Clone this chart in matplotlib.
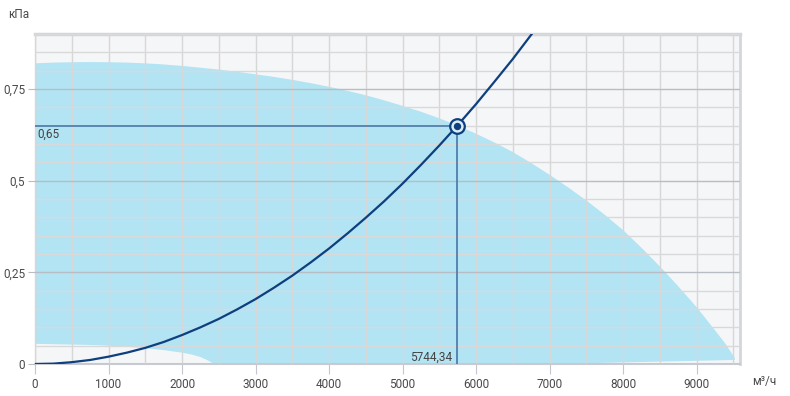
import matplotlib
matplotlib.use("Agg")
import matplotlib.pyplot as plt
from matplotlib.ticker import MultipleLocator, FuncFormatter

plt.rcParams['font.family'] = ['Roboto', 'DejaVu Sans']

# рабочая область вентилятора (верхняя и нижняя граница)
upper_x = [0, 250, 500, 750, 1000, 1250, 1500, 1750, 2000, 2250, 2500, 2750,
           3000, 3250, 3500, 3750, 4000, 4250, 4500, 4750, 5000, 5250, 5500,
           5750, 6000, 6250, 6500, 6750, 7000, 7250, 7500, 7750, 8000, 8250,
           8500, 8750, 9000, 9250, 9400, 9520]
upper_y = [0.820, 0.822, 0.823, 0.8235, 0.823, 0.822, 0.820, 0.817, 0.813, 0.808,
           0.803, 0.797, 0.790, 0.783, 0.775, 0.766, 0.756, 0.745, 0.733, 0.719,
           0.704, 0.688, 0.670, 0.650, 0.628, 0.604, 0.578, 0.548, 0.516, 0.482,
           0.446, 0.407, 0.365, 0.317, 0.266, 0.212, 0.155, 0.092, 0.053, 0.016]
lower_x = [0, 250, 500, 750, 1000, 1250, 1500, 1750, 2000, 2150, 2250, 2350,
           2400, 2450, 7000, 9520]
lower_y = [0.055, 0.054, 0.053, 0.052, 0.050, 0.047, 0.043, 0.038, 0.031, 0.025,
           0.019, 0.010, 0.004, 0.0, 0.0, 0.011]

# характеристика сети
sys_x = [0, 250, 500, 750, 1000, 1250, 1500, 1750, 2000, 2250, 2500, 2750,
         3000, 3250, 3500, 3750, 4000, 4250, 4500, 4750, 5000, 5250, 5500,
         5744.34, 6000, 6250, 6500, 6750, 6800]
sys_y = [0, 0.001, 0.005, 0.011, 0.020, 0.031, 0.044, 0.060, 0.079, 0.100,
         0.123, 0.149, 0.177, 0.208, 0.241, 0.277, 0.315, 0.356, 0.399, 0.444,
         0.492, 0.543, 0.596, 0.65, 0.709, 0.770, 0.832, 0.898, 0.911]

work_q = 5744.34
work_p = 0.65

fig = plt.figure(figsize=(7.9, 3.96), dpi=100)
ax = fig.add_axes([35 / 790, 32 / 396, 705 / 790, 330 / 396])
ax.set_facecolor('#f5f6f8')

poly_x = upper_x + lower_x[::-1]
poly_y = upper_y + lower_y[::-1]
ax.fill(poly_x, poly_y, color='#b3e4f3', lw=0, zorder=1)

ax.set_xlim(0, 9590)
ax.set_ylim(0, 0.9)

ax.xaxis.set_major_locator(MultipleLocator(1000))
ax.xaxis.set_minor_locator(MultipleLocator(500))
ax.yaxis.set_major_locator(MultipleLocator(0.25))
ax.yaxis.set_minor_locator(MultipleLocator(0.05))
ax.yaxis.set_major_formatter(FuncFormatter(lambda v, p: ('%g' % v).replace('.', ',')))

ax.set_axisbelow(False)
ax.grid(which='major', axis='y', color='#b8bdc5', lw=1, zorder=2)
ax.grid(which='minor', axis='y', color='#d9d9d9', lw=1, zorder=2)
ax.grid(which='both', axis='x', color='#d7d7d7', lw=1, zorder=2)

ax.tick_params(axis='x', which='major', length=7, color='#c4c8ce', labelsize=8.5,
               labelcolor='#4a4a4a', pad=3)
ax.tick_params(axis='y', which='major', length=5, color='#b8bdc5', labelsize=8.5,
               labelcolor='#4a4a4a', pad=2)
ax.tick_params(which='minor', length=0)

ax.spines['left'].set_color('#d7d7d7')
ax.spines['left'].set_linewidth(1)
ax.spines['bottom'].set_color('#c8ccd2')
ax.spines['bottom'].set_linewidth(1.5)
ax.spines['top'].set_color('#d3d6db')
ax.spines['top'].set_linewidth(2.5)
ax.spines['right'].set_color('#d3d6db')
ax.spines['right'].set_linewidth(2)

ax.plot(sys_x, sys_y, color='#0e3f7e', lw=1.6, zorder=4)

ax.plot([0, work_q], [work_p, work_p], color='#4f80ae', lw=1.3, zorder=3)
ax.plot([work_q, work_q], [0, work_p], color='#4f80ae', lw=1.3, zorder=3)

ax.scatter([work_q], [work_p], s=110, facecolor='#dcecf6', edgecolor='#0e3f7e',
           lw=1.6, zorder=5)
ax.scatter([work_q], [work_p], s=28, facecolor='#0e3f7e', lw=0, zorder=6)

ax.annotate('0,65', xy=(0, work_p), xytext=(2, -1.5), textcoords='offset points',
            ha='left', va='top', fontsize=8.5, color='#444444')
ax.annotate('5744,34', xy=(work_q, 0), xytext=(-4, 0.5), textcoords='offset points',
            ha='right', va='bottom', fontsize=8.5, color='#444444')

fig.text(8 / 790, 1 - 15 / 396, 'кПа', ha='left', va='center', fontsize=8.5, color='#4a4a4a')
fig.text(752 / 790, 1 - 381 / 396, 'м³/ч', ha='left', va='center', fontsize=8.5, color='#4a4a4a')

fig.savefig('out.png', dpi=100)
